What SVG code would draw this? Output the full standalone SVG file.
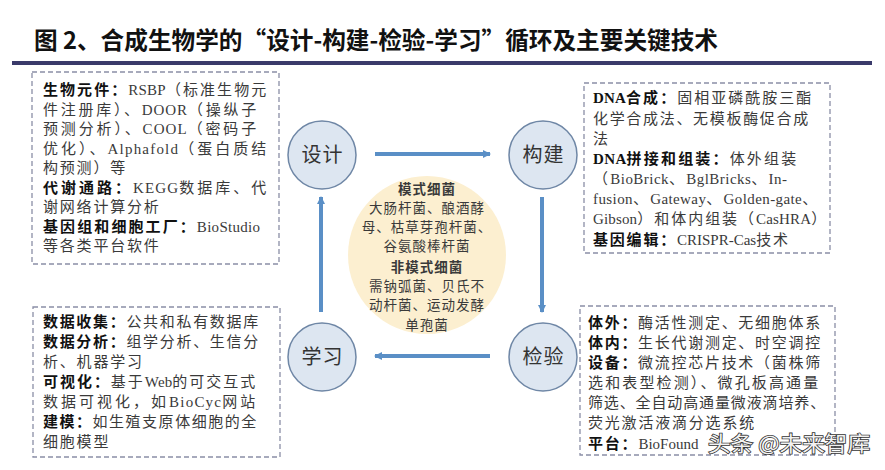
<svg xmlns="http://www.w3.org/2000/svg" width="885" height="470" viewBox="0 0 885 470">
<defs>
<style>
.t{font-family:'Liberation Serif','Noto Sans CJK SC',serif;font-size:15px;fill:#3a3a3a;letter-spacing:1.8px}
.l{letter-spacing:0}
.b{font-weight:bold;fill:#111}
.c{font-family:'Liberation Serif','Noto Sans CJK SC',serif;font-size:13.5px;fill:#3a3a3a;letter-spacing:1px;text-anchor:middle}
.box{fill:#fff;stroke:#8a8ea6;stroke-width:1.3;stroke-dasharray:5 3}
.node{fill:#dde6f1;stroke:#6f87a6;stroke-width:1.5}
.nl{font-family:'Liberation Serif','Noto Sans CJK SC',serif;font-size:20px;fill:#333;text-anchor:middle;letter-spacing:1px}
.arr{stroke:#5a8fc6;stroke-width:4;fill:none;marker-end:url(#ah)}
</style>
<marker id="ah" markerUnits="userSpaceOnUse" markerWidth="10" markerHeight="10" refX="7" refY="5" orient="auto">
<path d="M0,1 L8,5 L0,9 Z" fill="#5a8fc6"/>
</marker>
</defs>
<rect width="885" height="470" fill="#fff"/>
<g id="title">
<text x="34" y="49" font-family="'Noto Sans CJK SC','Liberation Serif',sans-serif" font-size="24" font-weight="bold" fill="#111" textLength="684" lengthAdjust="spacingAndGlyphs">图 2、合成生物学的“设计-构建-检验-学习”循环及主要关键技术</text>
<line x1="12" y1="63" x2="872" y2="63" stroke="#3a3a6a" stroke-width="4"/>
</g>
<g id="box-design">
<rect class="box" x="32" y="72" width="247" height="192"/>
<text class="t" x="43" y="95" textLength="225" lengthAdjust="spacing"><tspan class="b">生物元件：</tspan><tspan class="l">RSBP</tspan>（标准生物元</text>
<text class="t" x="43" y="114.5" textLength="215" lengthAdjust="spacing">件注册库）、<tspan class="l">DOOR</tspan>（操纵子</text>
<text class="t" x="43" y="134" textLength="215" lengthAdjust="spacing">预测分析）、<tspan class="l">COOL</tspan>（密码子</text>
<text class="t" x="43" y="153.5" textLength="225" lengthAdjust="spacing">优化）、<tspan class="l">Alphafold</tspan>（蛋白质结</text>
<text class="t" x="43" y="173">构预测）等</text>
<text class="t" x="43" y="192.5" textLength="225" lengthAdjust="spacing"><tspan class="b">代谢通路：</tspan><tspan class="l">KEGG</tspan>数据库、代</text>
<text class="t" x="43" y="212">谢网络计算分析</text>
<text class="t" x="43" y="231.5" textLength="217" lengthAdjust="spacing"><tspan class="b">基因组和细胞工厂：</tspan><tspan class="l">BioStudio</tspan></text>
<text class="t" x="43" y="251">等各类平台软件</text>
</g>
<g id="box-build">
<rect class="box" x="584" y="83" width="246" height="170"/>
<text class="t" x="593" y="103" textLength="220" lengthAdjust="spacing"><tspan class="b"><tspan class="l">DNA</tspan>合成：</tspan>固相亚磷酰胺三酯</text>
<text class="t" x="593" y="123.5" textLength="217" lengthAdjust="spacing">化学合成法、无模板酶促合成</text>
<text class="t" x="593" y="143.5">法</text>
<text class="t" x="593" y="164" textLength="205" lengthAdjust="spacing"><tspan class="b"><tspan class="l">DNA</tspan>拼接和组装：</tspan>体外组装</text>
<text class="t" x="593" y="184" textLength="194" lengthAdjust="spacing">（<tspan class="l">BioBrick</tspan>、<tspan class="l">BglBricks</tspan>、<tspan class="l">In-</tspan></text>
<text class="t" x="593" y="204" textLength="226" lengthAdjust="spacing"><tspan class="l">fusion</tspan>、<tspan class="l">Gateway</tspan>、<tspan class="l">Golden-gate</tspan>、</text>
<text class="t" x="593" y="224" textLength="235" lengthAdjust="spacing"><tspan class="l">Gibson</tspan>）和体内组装（<tspan class="l">CasHRA</tspan>）</text>
<text class="t" x="593" y="245"><tspan class="b">基因编辑：</tspan><tspan class="l">CRISPR-Cas</tspan>技术</text>
</g>
<g id="box-learn">
<rect class="box" x="33" y="307" width="247" height="150"/>
<text class="t" x="43" y="327" textLength="217" lengthAdjust="spacing"><tspan class="b">数据收集：</tspan>公共和私有数据库</text>
<text class="t" x="43" y="347" textLength="217" lengthAdjust="spacing"><tspan class="b">数据分析：</tspan>组学分析、生信分</text>
<text class="t" x="43" y="367">析、机器学习</text>
<text class="t" x="43" y="387" textLength="214" lengthAdjust="spacing"><tspan class="b">可视化：</tspan>基于<tspan class="l">Web</tspan>的可交互式</text>
<text class="t" x="43" y="407" textLength="214" lengthAdjust="spacing">数据可视化，如<tspan class="l">BioCyc</tspan>网站</text>
<text class="t" x="43" y="427" textLength="215" lengthAdjust="spacing"><tspan class="b">建模：</tspan>如生殖支原体细胞的全</text>
<text class="t" x="43" y="447">细胞模型</text>
</g>
<g id="box-test">
<rect class="box" x="580" y="306" width="255" height="149"/>
<text class="t" x="588" y="328" textLength="234" lengthAdjust="spacing"><tspan class="b">体外：</tspan>酶活性测定、无细胞体系</text>
<text class="t" x="588" y="348" textLength="234" lengthAdjust="spacing"><tspan class="b">体内：</tspan>生长代谢测定、时空调控</text>
<text class="t" x="588" y="368" textLength="234" lengthAdjust="spacing"><tspan class="b">设备：</tspan>微流控芯片技术（菌株筛</text>
<text class="t" x="588" y="388" textLength="232" lengthAdjust="spacing">选和表型检测）、微孔板高通量</text>
<text class="t" x="588" y="408" textLength="239" lengthAdjust="spacing">筛选、全自动高通量微液滴培养、</text>
<text class="t" x="588" y="428">荧光激活液滴分选系统</text>
<text class="t" x="588" y="449"><tspan class="b">平台：</tspan><tspan class="l">BioFound</tspan></text>
</g>
<g id="center">
<circle cx="427" cy="255" r="79" fill="#fcefd0"/>
<text class="c" x="427" y="194" font-weight="bold" fill="#111">模式细菌</text>
<text class="c" x="427" y="213">大肠杆菌、酿酒酵</text>
<text class="c" x="427" y="232">母、枯草芽孢杆菌、</text>
<text class="c" x="427" y="251">谷氨酸棒杆菌</text>
<text class="c" x="427" y="272" font-weight="bold" fill="#111">非模式细菌</text>
<text class="c" x="427" y="291">需钠弧菌、贝氏不</text>
<text class="c" x="427" y="310">动杆菌、运动发酵</text>
<text class="c" x="427" y="330">单孢菌</text>
</g>
<g id="connectors">
<line class="arr" x1="375" y1="154" x2="490" y2="154"/>
<line class="arr" x1="542" y1="197" x2="542" y2="312"/>
<line class="arr" x1="490" y1="356" x2="375" y2="356"/>
<line class="arr" x1="321" y1="312" x2="321" y2="197"/>
</g>
<g id="node-design"><circle class="node" cx="322" cy="155" r="34"/><text class="nl" x="322.5" y="162">设计</text></g>
<g id="node-build"><circle class="node" cx="543" cy="155" r="34"/><text class="nl" x="543.5" y="162">构建</text></g>
<g id="node-learn"><circle class="node" cx="322" cy="357" r="34"/><text class="nl" x="322.5" y="364">学习</text></g>
<g id="node-test"><circle class="node" cx="543" cy="357" r="34"/><text class="nl" x="543.5" y="364">检验</text></g>
<g id="watermark">
<text x="708" y="451" font-family="'Noto Sans CJK SC',sans-serif" font-size="21" fill="#f2f2f2" stroke="#333" stroke-width="1.6" paint-order="stroke" textLength="162" lengthAdjust="spacingAndGlyphs">头条 @未来智库</text>
</g>
</svg>
